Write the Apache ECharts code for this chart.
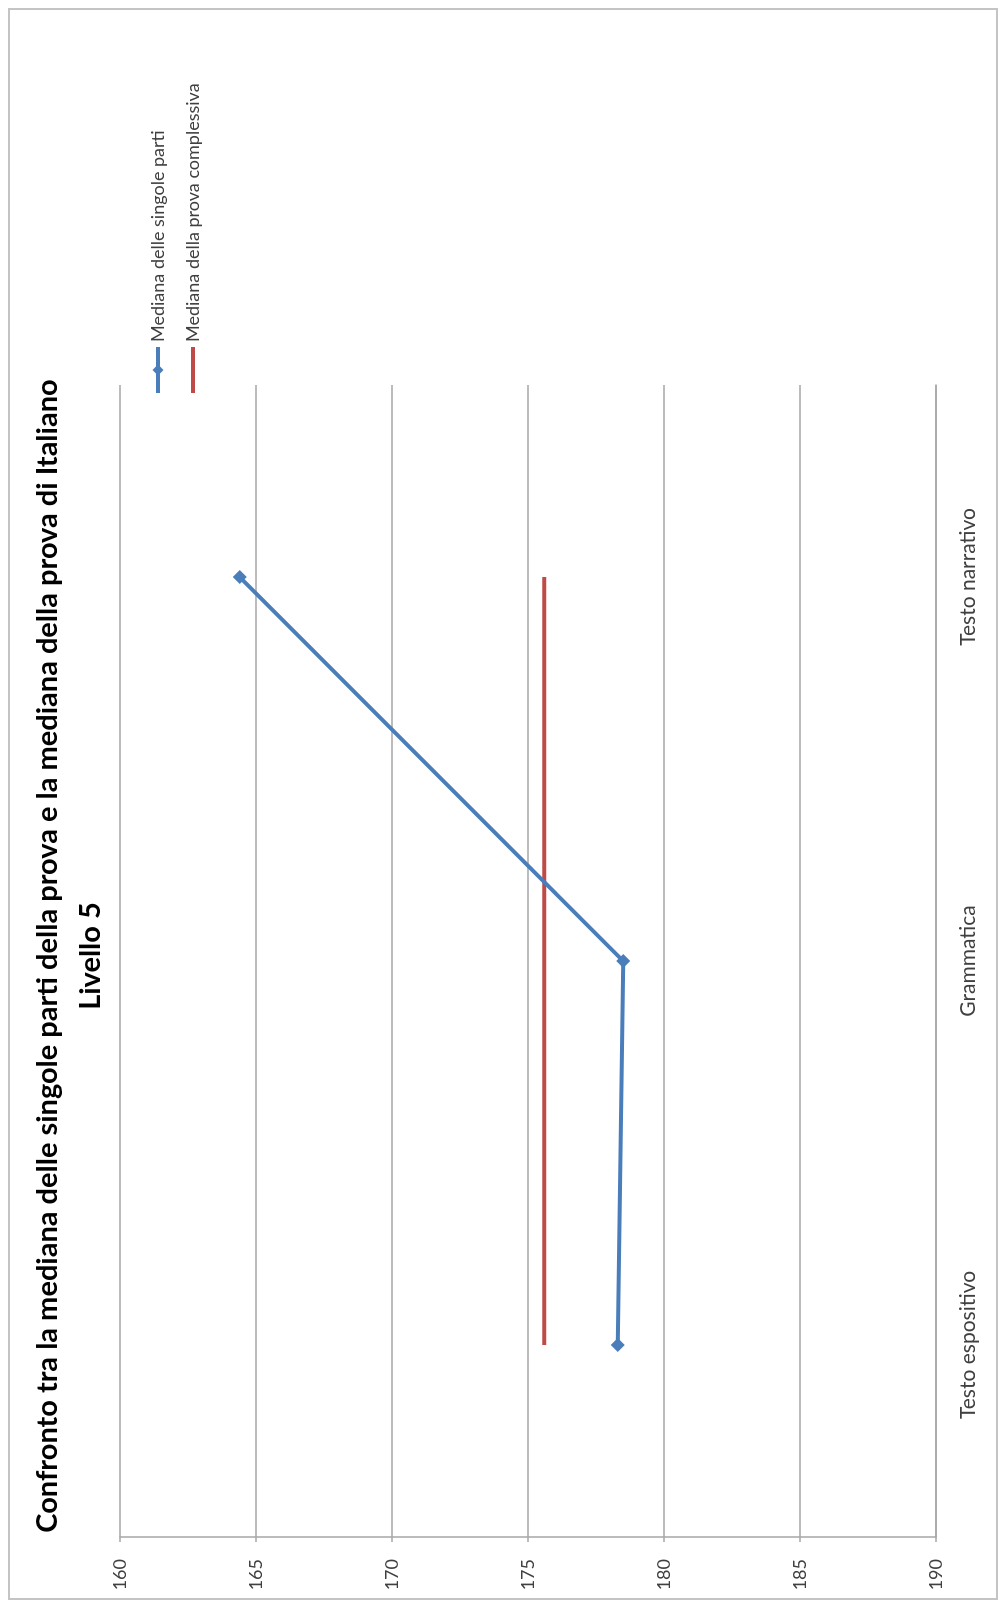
<!DOCTYPE html>
<html>
<head>
<meta charset="utf-8">
<script src="https://cdn.jsdelivr.net/npm/echarts@6/dist/echarts.min.js"></script>
<style>
  html, body { margin: 0; padding: 0; background: #ffffff; overflow: hidden; width: 1000px; height: 1608px; }
  #chart {
    position: absolute; left: 0; top: 0;
    width: 1608px; height: 1000px;
    transform-origin: 0 0;
    transform: translate(0px, 1608px) rotate(-90deg);
  }
</style>
</head>
<body>
<div id="chart"></div>
<script>
// ---- data ----
const categories = ['Testo espositivo', 'Grammatica', 'Testo narrativo'];
const medianaParti = [178.3, 178.5, 164.4];
const medianaComplessiva = [175.6, 175.6, 175.6];
const seriesNames = ['Mediana delle singole parti', 'Mediana della prova complessiva'];
const axisMin = 160, axisMax = 190, axisStep = 5;
const titleLines = ['Confronto tra la mediana delle singole parti della prova e la mediana della prova di Italiano', 'Livello 5'];

const chart = echarts.init(document.getElementById('chart'), null, { width: 1608, height: 1000 });
const font = 'Lato, "Liberation Sans", sans-serif';
const blue = '#4a7ebb', red = '#be4b48';

chart.setOption({
  backgroundColor: '#ffffff',
  animation: false,
  title: {
    text: titleLines.join('\n'),
    left: 647,
    textAlign: 'center',
    top: 21,
    textStyle: { fontFamily: font, fontWeight: 'bold', fontSize: 29, lineHeight: 43, color: '#000000' }
  },
  legend: {
    orient: 'vertical',
    left: 1208,
    top: 144,
    itemWidth: 46,
    itemHeight: 14,
    itemGap: 17,
    lineStyle: { width: 4 },
    textStyle: { fontFamily: font, fontSize: 18, color: '#404040' },
    data: [
      { name: seriesNames[0] },
      { name: seriesNames[1], icon: 'path://M0,0H46V4H0Z', itemStyle: { color: red } }
    ]
  },
  grid: { left: 71, right: 385, top: 120, bottom: 64, containLabel: false },
  xAxis: {
    type: 'category',
    data: categories,
    boundaryGap: true,
    axisLine: { show: true, lineStyle: { color: '#a6a6a6', width: 1.5 } },
    axisTick: { show: false },
    axisLabel: { fontFamily: font, fontSize: 21, color: '#404040', margin: 22 }
  },
  yAxis: {
    type: 'value',
    min: axisMin, max: axisMax, interval: axisStep,
    inverse: true,
    axisLine: { show: true, lineStyle: { color: '#a6a6a6', width: 1.5 } },
    axisTick: { show: true, inside: false, length: 5, lineStyle: { color: '#a6a6a6', width: 1.5 } },
    splitLine: { show: true, lineStyle: { color: '#a6a6a6', width: 1.5 } },
    axisLabel: { fontFamily: font, fontSize: 18, color: '#404040', margin: 22 }
  },
  series: [
    {
      name: seriesNames[0],
      type: 'line',
      data: medianaParti,
      symbol: 'diamond',
      symbolSize: 14,
      lineStyle: { color: blue, width: 4 },
      itemStyle: { color: blue },
      z: 3
    },
    {
      name: seriesNames[1],
      type: 'line',
      data: medianaComplessiva,
      symbol: 'none',
      lineStyle: { color: red, width: 4 },
      itemStyle: { color: red },
      z: 2
    }
  ],
  graphic: [
    {
      type: 'rect',
      shape: { x: 9, y: 9, width: 1590, height: 988 },
      style: { fill: 'none', stroke: '#c4c4c4', lineWidth: 2 },
      silent: true
    }
  ]
});
</script>
</body>
</html>
